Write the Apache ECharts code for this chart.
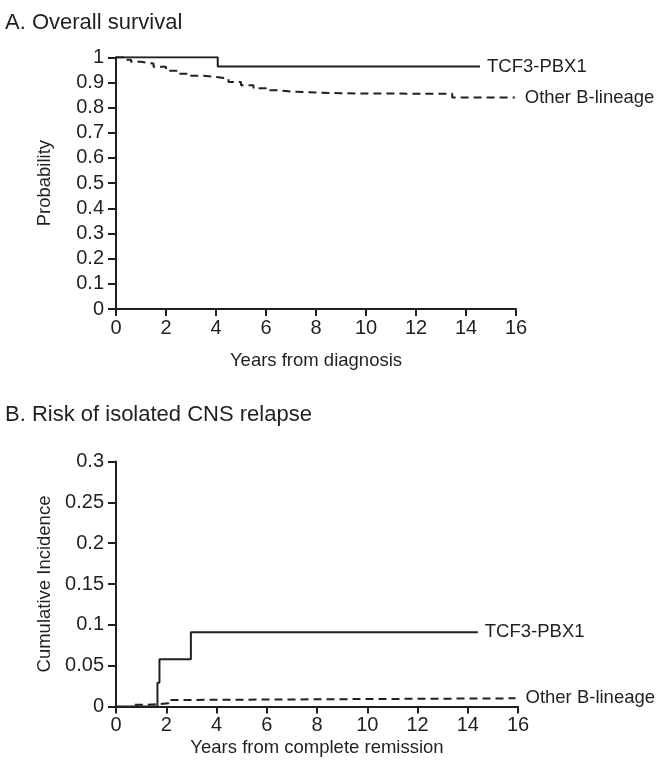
<!DOCTYPE html>
<html>
<head>
<meta charset="utf-8">
<script src="https://cdn.jsdelivr.net/npm/echarts@6/dist/echarts.min.js"></script>
<style>
html,body{margin:0;padding:0;background:#fff;}
#chart{width:664px;height:769px;}
</style>
</head>
<body>
<div id="chart"></div>
<script>
// ---- Data ----
const seriesNames = ['TCF3-PBX1', 'Other B-lineage'];
const xTicksYears = [0, 2, 4, 6, 8, 10, 12, 14, 16];

// Panel A: overall survival (years, probability)
const osTcf3 = [[0, 1.0], [4.07, 0.963], [14.56, 0.963]];
const osOther = [
  [0, 1.0], [0.3, 0.99], [0.6, 0.982], [1.0, 0.975], [1.5, 0.962], [2.0, 0.947],
  [2.5, 0.935], [3.0, 0.927], [3.5, 0.922], [4.0, 0.915], [4.5, 0.902], [5.0, 0.889],
  [5.5, 0.877], [6.0, 0.869], [6.5, 0.864], [7.0, 0.86], [8.0, 0.857], [9.0, 0.856],
  [10.5, 0.855], [13.45, 0.84], [15.95, 0.84]
];

// Panel B: cumulative incidence of isolated CNS relapse
const cnsTcf3 = [[0, 0], [1.65, 0.029], [1.73, 0.058], [2.98, 0.091], [14.4, 0.091]];
const cnsOther = [[0.75, 0.002], [1.2, 0.003], [1.7, 0.004], [2.1, 0.008], [2.5, 0.01], [15.9, 0.01]];

// ---- Styles ----
const INK = '#231f20';
const FONT = "'Liberation Sans', Arial, Helvetica, sans-serif";

function xAxisCfg(gridIndex, name, gap) {
  return {
    type: 'value', gridIndex, min: 0, max: 16, interval: 2,
    name, nameLocation: 'middle', nameGap: gap,
    nameTextStyle: { fontSize: 18.5, color: INK, fontFamily: FONT },
    axisLine: { show: true, lineStyle: { color: INK, width: 2 } },
    axisTick: { show: true, length: 7, lineStyle: { color: INK, width: 2 } },
    axisLabel: { fontSize: 20, color: INK, fontFamily: FONT, margin: 9 },
    splitLine: { show: false }
  };
}
function yAxisCfg(gridIndex, name, max, interval, gap) {
  return {
    type: 'value', gridIndex, min: 0, max, interval,
    name, nameLocation: 'middle', nameGap: gap,
    nameTextStyle: { fontSize: 18.5, color: INK, fontFamily: FONT },
    axisLine: { show: true, lineStyle: { color: INK, width: 2 } },
    axisTick: { show: true, length: 8, lineStyle: { color: INK, width: 2 } },
    axisLabel: { fontSize: 20, color: INK, fontFamily: FONT, margin: 12,
      formatter: v => String(+v.toFixed(2)) },
    splitLine: { show: false }
  };
}
function lineSeries(name, data, xi, yi, dashed, dist) {
  return {
    type: 'line', name, data, xAxisIndex: xi, yAxisIndex: yi,
    step: 'end', symbol: 'none', silent: true,
    lineStyle: { color: INK, width: 2, type: dashed ? [8, 5] : 'solid' },
    endLabel: { show: true, formatter: '{a}', distance: dist, fontSize: 18.5,
      color: INK, fontFamily: FONT }
  };
}

const chart = echarts.init(document.getElementById('chart'), null, { renderer: 'canvas' });
chart.setOption({
  animation: false,
  backgroundColor: '#fff',
  title: [
    { text: 'A. Overall survival', left: 5, top: 12, padding: 0,
      textStyle: { fontSize: 22, fontWeight: 'normal', color: INK, fontFamily: FONT } },
    { text: 'B. Risk of isolated CNS relapse', left: 5, top: 404, padding: 0,
      textStyle: { fontSize: 22, fontWeight: 'normal', color: INK, fontFamily: FONT } }
  ],
  grid: [
    { left: 116, top: 57.3, width: 400, height: 251.7 },
    { left: 116, top: 461.5, width: 402, height: 245 }
  ],
  xAxis: [
    xAxisCfg(0, 'Years from diagnosis', 42),
    xAxisCfg(1, 'Years from complete remission', 32)
  ],
  yAxis: [
    yAxisCfg(0, 'Probability', 1, 0.1, 62),
    yAxisCfg(1, 'Cumulative Incidence', 0.3, 0.05, 62)
  ],
  series: [
    lineSeries(seriesNames[0], osTcf3, 0, 0, false, 7),
    lineSeries(seriesNames[1], osOther, 0, 0, true, 10),
    lineSeries(seriesNames[0], cnsTcf3, 1, 1, false, 7),
    lineSeries(seriesNames[1], cnsOther, 1, 1, true, 10)
  ]
});
</script>
</body>
</html>
